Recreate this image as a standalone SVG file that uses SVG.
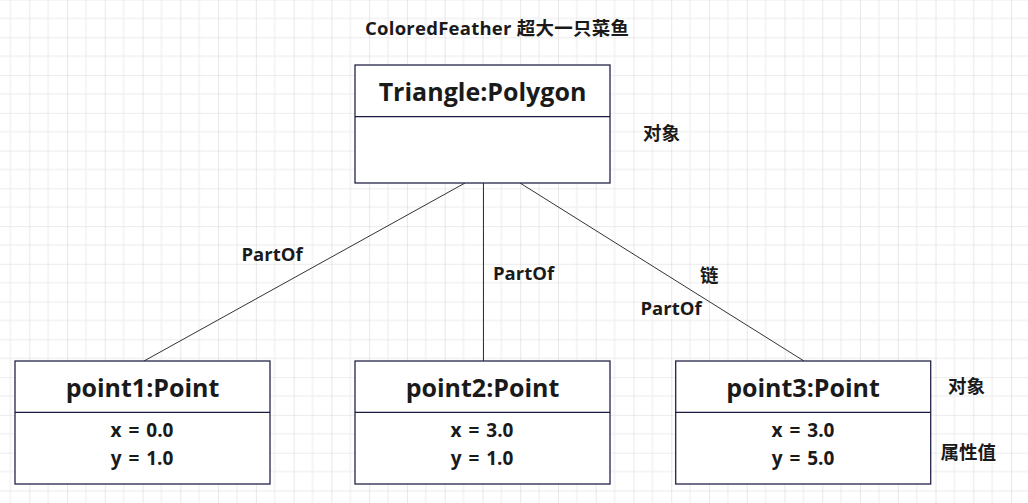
<svg xmlns="http://www.w3.org/2000/svg" width="1028" height="503" viewBox="0 0 1028 503">
<defs>
<pattern id="grid" x="29.3" y="37.3" width="37.76" height="37.76" patternUnits="userSpaceOnUse">
<line x1="18.88" y1="0" x2="18.88" y2="37.76" stroke="#ececec" stroke-width="1"/>
<line x1="0" y1="18.88" x2="37.76" y2="18.88" stroke="#ececec" stroke-width="1"/>
<line x1="0" y1="0" x2="0" y2="37.76" stroke="#d9d9d9" stroke-width="1.2"/>
<line x1="0" y1="0" x2="37.76" y2="0" stroke="#d9d9d9" stroke-width="1.2"/>
</pattern>
<style>
.box{fill:#ffffff;stroke:#24244a;stroke-width:1.3}
.div{stroke:#1a1a44;stroke-width:1.2}
.t{font-family:"Open Sans","Noto Sans CJK SC",sans-serif;font-weight:bold;fill:#1a1a1a}
.name{font-size:25px;text-anchor:middle}
.attr{font-size:19px;text-anchor:middle;word-spacing:2px}
.lbl{font-size:18.5px}
.conn{stroke:#333333;stroke-width:1;fill:none}
</style>
</defs>
<rect width="1028" height="503" fill="#ffffff"/>
<rect width="1028" height="503" fill="url(#grid)"/>

<text class="t lbl" x="365" y="35" textLength="264">ColoredFeather 超大一只菜鱼</text>

<g id="connectors">
<line class="conn" x1="465" y1="183" x2="144" y2="361"/>
<line class="conn" x1="483.5" y1="183" x2="483.5" y2="361" stroke-width="1.3"/>
<line class="conn" x1="520" y1="183" x2="804" y2="361"/>
<text class="t lbl" x="241.5" y="261">PartOf</text>
<text class="t lbl" x="493" y="280">PartOf</text>
<text class="t lbl" x="700" y="281.5">链</text>
<text class="t lbl" x="640.5" y="314.5">PartOf</text>
</g>

<g id="triangle">
<rect class="box" x="355" y="65" width="255" height="118"/>
<line class="div" x1="355" y1="116.7" x2="610" y2="116.7"/>
<text class="t name" x="482.5" y="101">Triangle:Polygon</text>
</g>

<g id="point1">
<rect class="box" x="15" y="361" width="255" height="123"/>
<line class="div" x1="15" y1="412.3" x2="270" y2="412.3"/>
<text class="t name" x="142.5" y="397">point1:Point</text>
<text class="t attr" x="142" y="437">x = 0.0</text>
<text class="t attr" x="142" y="465">y = 1.0</text>
</g>

<g id="point2">
<rect class="box" x="355" y="361" width="255" height="123"/>
<line class="div" x1="355" y1="412.3" x2="610" y2="412.3"/>
<text class="t name" x="482.5" y="397">point2:Point</text>
<text class="t attr" x="482" y="437">x = 3.0</text>
<text class="t attr" x="482" y="465">y = 1.0</text>
</g>

<g id="point3">
<rect class="box" x="675.7" y="361" width="255" height="123"/>
<line class="div" x1="675.7" y1="412.3" x2="930.7" y2="412.3"/>
<text class="t name" x="803" y="397">point3:Point</text>
<text class="t attr" x="803" y="437">x = 3.0</text>
<text class="t attr" x="803" y="465">y = 5.0</text>
</g>

<g id="labels">
<text class="t lbl" x="643" y="140" font-size="19.5">对象</text>
<text class="t lbl" x="948" y="392.5" font-size="19.5">对象</text>
<text class="t lbl" x="940.5" y="459">属性值</text>
</g>
</svg>
